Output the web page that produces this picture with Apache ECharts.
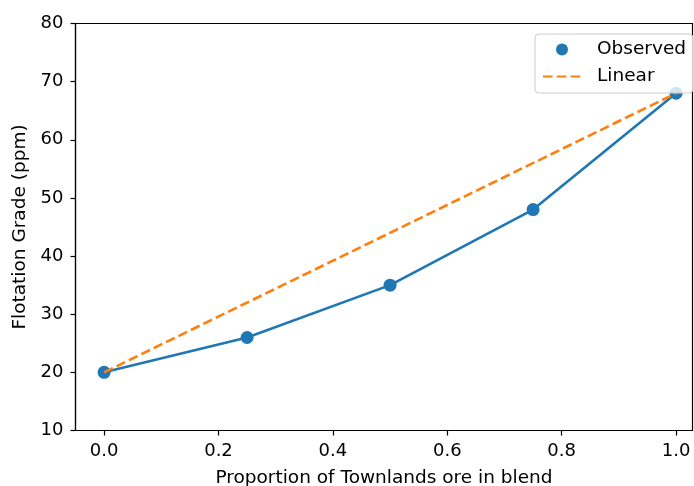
<!DOCTYPE html>
<html>
<head>
<meta charset="utf-8">
<script src="https://cdn.jsdelivr.net/npm/echarts@6/dist/echarts.min.js"></script>
<style>
  html, body { margin: 0; padding: 0; background: #fff; }
  #chart { width: 694px; height: 486px; }
</style>
</head>
<body>
<div id="chart"></div>
<script>
// Blend proportion of Townlands ore and the measured flotation grade
const proportions = [0.0, 0.25, 0.5, 0.75, 1.0];
const observedGrade = [20, 26, 35, 48, 68];
// Straight-line mixing between the two end members
const linearEnds = [0.0, 1.0];
const linearGrade = [20, 68];
const xTicks = [0.0, 0.2, 0.4, 0.6, 0.8, 1.0];
const yTicks = [10, 20, 30, 40, 50, 60, 70, 80];

const FONT = 'DejaVu Sans';
const FS = 18;
const FS_NAME = 18.5;
const BLUE = '#1f77b4';
const ORANGE = '#ff7f0e';

const chart = echarts.init(document.getElementById('chart'), null, { renderer: 'canvas' });

const axisCommon = {
  axisLine: { show: true, onZero: false, lineStyle: { color: '#000', width: 1.2 } },
  axisTick: { show: true, inside: false, length: 5, lineStyle: { color: '#000', width: 1.2 } },
  splitLine: { show: false },
  nameTextStyle: { fontFamily: FONT, fontSize: FS_NAME, color: '#000' }
};

chart.setOption({
  animation: false,
  backgroundColor: '#fff',
  grid: {
    left: 75.5, top: 23.5, width: 617, height: 407,
    containLabel: false, outerBoundsMode: 'none',
    show: true, borderColor: '#000', borderWidth: 1.2, backgroundColor: 'transparent'
  },
  xAxis: Object.assign({}, axisCommon, {
    type: 'value',
    min: -0.05,
    max: 1.0287,
    name: 'Proportion of Townlands ore in blend',
    nameLocation: 'middle',
    nameGap: 38,
    axisTick: Object.assign({}, axisCommon.axisTick, { customValues: xTicks }),
    axisLabel: {
      customValues: xTicks,
      formatter: v => v.toFixed(1),
      fontFamily: FONT, fontSize: FS, color: '#000', margin: 12
    }
  }),
  yAxis: Object.assign({}, axisCommon, {
    type: 'value',
    min: 10,
    max: 80,
    name: 'Flotation Grade (ppm)',
    nameLocation: 'middle',
    nameGap: 44,
    axisTick: Object.assign({}, axisCommon.axisTick, { customValues: yTicks }),
    axisLabel: {
      customValues: yTicks,
      fontFamily: FONT, fontSize: FS, color: '#000', margin: 12
    }
  }),
  legend: {
    left: 535,
    top: 34,
    orient: 'vertical',
    padding: [6, 7, 7, 7],
    itemWidth: 38,
    itemHeight: 12,
    itemGap: 8,
    backgroundColor: 'rgba(255,255,255,0.8)',
    borderColor: '#cccccc',
    borderWidth: 1,
    borderRadius: 4,
    textStyle: { fontFamily: FONT, fontSize: FS_NAME, color: '#000', padding: [0, 0, 0, 11] },
    data: [
      { name: 'Observed', icon: 'circle', itemStyle: { color: BLUE } },
      { name: 'Linear', itemStyle: { color: 'rgba(0,0,0,0)', borderWidth: 0 } }
    ],
    z: 10
  },
  series: [
    {
      name: 'Observed',
      type: 'line',
      data: proportions.map((p, i) => [p, observedGrade[i]]),
      symbol: 'circle',
      symbolSize: 13,
      showSymbol: true,
      itemStyle: { color: BLUE },
      lineStyle: { color: BLUE, width: 2.6 },
      z: 2
    },
    {
      name: 'Linear',
      type: 'line',
      data: linearEnds.map((p, i) => [p, linearGrade[i]]),
      symbol: 'none',
      itemStyle: { color: ORANGE },
      lineStyle: { color: ORANGE, width: 2.6, type: [9.6, 4.2] },
      z: 3
    }
  ]
});
</script>
</body>
</html>
